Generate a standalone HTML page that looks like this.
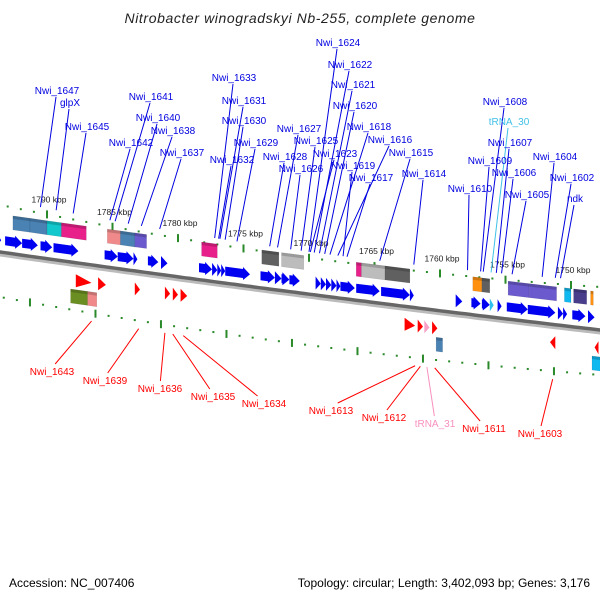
<!DOCTYPE html>
<html><head><meta charset="utf-8"><style>
body{margin:0;background:#fff;}
svg{display:block;font-family:"Liberation Sans","DejaVu Sans",sans-serif;}
</style></head><body>
<svg id="map" width="600" height="600" viewBox="0 0 600 600" xmlns="http://www.w3.org/2000/svg">
<text x="300" y="23" text-anchor="middle" font-size="14" font-style="italic" fill="#222" letter-spacing="0.6">Nitrobacter winogradskyi Nb-255, complete genome</text>
<text x="9" y="587" font-size="12" fill="#000">Accession: NC_007406</text>
<text x="590" y="587" font-size="12" fill="#000" text-anchor="end">Topology: circular; Length: 3,402,093 bp; Genes: 3,176</text>
<g id="layer"></g>
</svg>
<script>
// ---- data (kbp) ----
const fwdStart=[1793.8,1793.2,1791.9,1790.5,1789.5,1785.6,1784.6,1783.4,1782.3,1781.3,1778.4,1777.4,1777.0,1776.7,1776.4,1773.7,1772.6,1772.1,1771.5,1769.5,1769.1,1768.7,1768.3,1767.9,1767.6,1766.4,1764.5,1762.3,1758.8,1757.6,1756.8,1755.6,1754.9,1753.3,1751.0,1750.6,1749.9,1748.7];
const fwdEnd=  [1793.5,1791.9,1790.7,1789.6,1787.6,1784.6,1783.4,1783.1,1781.5,1780.8,1777.4,1777.0,1776.7,1776.4,1774.5,1772.6,1772.1,1771.5,1770.7,1769.1,1768.7,1768.3,1767.9,1767.6,1766.5,1764.6,1762.3,1762.0,1758.3,1756.9,1756.2,1755.3,1753.3,1751.2,1750.6,1750.3,1748.9,1748.2];
const trnaFStart=[1756.2]; const trnaFEnd=[1755.9];
const boxStart=[1792.6,1791.3,1790.0,1788.9,1785.4,1784.4,1783.3,1778.2,1773.6,1772.1,1766.4,1766.0,1764.2,1757.5,1756.8,1754.8,1753.2,1750.5,1749.8,1748.5];
const boxEnd=  [1791.3,1790.0,1788.9,1787.0,1784.4,1783.2,1782.4,1777.0,1772.3,1770.4,1766.0,1764.2,1762.3,1756.8,1756.2,1753.2,1751.1,1750.0,1748.8,1748.3];
const boxColor=["#4a82b4","#4a82b4","#13c8cc","#e8208a","#f08a8a","#4a82b4","#6a5acd","#e8208a","#606060","#bcbcbc","#e8208a","#bcbcbc","#606060","#ff9010","#606060","#6a5acd","#6a5acd","#10b8f0","#483d8b","#ff9010"];
const revStart=[1786.6,1785.5,1782.9,1780.6,1780.0,1779.3,1761.9,1761.3,1760.8,1760.2,1751.6,1748.2];
const revEnd=  [1787.8,1786.1,1783.3,1781.0,1780.4,1779.8,1762.7,1761.7,1761.2,1760.6,1751.2,1747.9];
const revColor=["red","red","red","red","red","red","red","red","#f8a0c8","red","red","red"];
const box2Start=[1788.2,1786.9,1760.3,1748.4];
const box2End=[1786.9,1786.2,1759.8,1747.6];
const box2Color=["#6b8e23","#f08a8a","#4a82b4","#10b8f0"];
const tickKbp=[1790,1785,1780,1775,1770,1765,1760,1755,1750];
const tickLabels=["1790 kbp","1785 kbp","1780 kbp","1775 kbp","1770 kbp","1765 kbp","1760 kbp","1755 kbp","1750 kbp"];
const topLabels=["Nwi_1647","glpX","Nwi_1645","Nwi_1641","Nwi_1640","Nwi_1638","Nwi_1642","Nwi_1637","Nwi_1633","Nwi_1631","Nwi_1630","Nwi_1629","Nwi_1632","Nwi_1627","Nwi_1628","Nwi_1626","Nwi_1625","Nwi_1624","Nwi_1622","Nwi_1621","Nwi_1620","Nwi_1618","Nwi_1623","Nwi_1616","Nwi_1619","Nwi_1617","Nwi_1615","Nwi_1614","Nwi_1608","tRNA_30","Nwi_1607","Nwi_1609","Nwi_1606","Nwi_1610","Nwi_1605","Nwi_1604","Nwi_1602","ndk"];
const topTarget=[1790.5,1789.3,1788.0,1784.8,1783.8,1782.8,1785.2,1781.4,1777.2,1776.8,1776.4,1775.5,1776.9,1772.4,1773.0,1771.4,1770.6,1770.0,1769.6,1769.2,1768.8,1768.4,1769.9,1767.8,1767.4,1767.1,1764.6,1762.0,1756.7,1756.1,1755.7,1756.9,1755.3,1757.9,1754.5,1752.2,1751.2,1750.8];
const topTx=[57,70,87,151,158,173,131,182,234,244,244,256,232,299,285,301,316,338,350,353,355,369,335,390,353,371,411,424,505,509,510,490,514,470,527,555,572,575];
const topTy=[94,106,130,100,121,134,146,156,81,104,124,146,163,132,160,172,144,46,68,88,109,130,157,143,169,181,156,177,105,125,146,164,176,192,198,160,181,202];
const botLabels=["Nwi_1643","Nwi_1639","Nwi_1636","Nwi_1635","Nwi_1634","Nwi_1613","Nwi_1612","tRNA_31","Nwi_1611","Nwi_1603"];
const botTarget=[1786.6,1783.0,1781.0,1780.4,1779.6,1761.9,1761.5,1761.0,1760.4,1751.4];
const botTx=[52,105,160,213,264,331,384,435,484,540];
const botTy=[375,384,392,400,407,414,421,427,432,437];
const botColor=["red","red","red","red","red","red","red","#f890c0","red","red"];

// ---- axis functions ----
const kx=k=>47+(1790-k)*13.1;
const ay=x=>252+0.1433*x-0.0000222*x*x;
const topY=x=>204.9+0.2076*x-0.000118*x*x;
const lowY=x=>297+0.1833*x-0.000089*x*x;
const NS="http://www.w3.org/2000/svg";
const layer=document.getElementById('layer');
function mk(tag,attrs){const e=document.createElementNS(NS,tag);for(const a in attrs)e.setAttribute(a,attrs[a]);layer.appendChild(e);return e;}
function pt(x,off){return x.toFixed(1)+","+(ay(x)+off).toFixed(1);}

// backbone
let d="M-5,"+ay(-5).toFixed(1);for(let x=0;x<=605;x+=5)d+=" L"+x+","+ay(x).toFixed(1);
let sh=mk('path',{d:d,transform:"translate(0,3)",stroke:"#bbb","stroke-width":3,fill:"none"});

let bb=mk('path',{d:d,stroke:"#666","stroke-width":3.5,fill:"none"});


// dotted scale lines
for(let k=1795;k>=1745;k--){const x=kx(k);if(x<-2||x>602)continue;const major=(k%5===0);
 const y=topY(x);
 const t=mk('rect',{x:x-1,y:major?y-4:y-1,width:2,height:major?8:2,fill:"#2a8a2a"});
 }
for(let k=1795.3;k>=1745;k-=1){const x=kx(k);if(x<-2||x>602)continue;const major=(Math.round((1786.3-k)*10)%50===0);
 const y=lowY(x);
 const t=mk('rect',{x:x-1,y:major?y-4:y-1,width:2,height:major?8:2,fill:"#2a8a2a"});
 }
tickKbp.forEach((k,i)=>{const x=kx(k);const t=mk('text',{x:x+2,y:topY(x)-12,"text-anchor":"middle","font-size":8.5,fill:"#222"});t.textContent=tickLabels[i];
 });

// boxes
function band(s,e,off,h,col,name){const x1=kx(s),x2=kx(e);
 const p=mk('polygon',{points:[pt(x1,off-h/2),pt(x2,off-h/2),pt(x2,off+h/2),pt(x1,off+h/2)].join(" "),fill:col,stroke:"rgba(0,0,0,0.15)","stroke-width":0.5});
 
 const q=mk('polygon',{points:[pt(x1,off-h/2),pt(x2,off-h/2),pt(x2,off-h/2+3),pt(x1,off-h/2+3)].join(" "),fill:"rgba(0,0,0,0.18)"});
 }
boxStart.forEach((s,i)=>band(s,boxEnd[i],-31,14,boxColor[i],'feature-box'));
box2Start.forEach((s,i)=>band(s,box2End[i],34,14,box2Color[i],'reverse-feature-box'));

// arrows
function arrow(s,e,off,col,dir,name){let x1=kx(s),x2=kx(e);const w=x2-x1;const hl=Math.min(7,w);const h=6.5;
 let pts;
 if(dir>0) pts=[pt(x1,off-h+2),pt(x2-hl,off-h+2),pt(x2-hl,off-h),pt(x2,off),pt(x2-hl,off+h),pt(x2-hl,off+h-2),pt(x1,off+h-2)];
 else pts=[pt(x2,off-h+2),pt(x1+hl,off-h+2),pt(x1+hl,off-h),pt(x1,off),pt(x1+hl,off+h),pt(x1+hl,off+h-2),pt(x2,off+h-2)];
 const p=mk('polygon',{points:pts.join(" "),fill:col});}
fwdStart.forEach((s,i)=>arrow(s,fwdEnd[i],-12,"#0000f0",1,'forward-gene'));
trnaFStart.forEach((s,i)=>arrow(s,trnaFEnd[i],-12,"#30c0f0",1,'forward-trna'));
revStart.forEach((s,i)=>arrow(s,revEnd[i],18,revColor[i],-1,'reverse-gene'));

// labels
topLabels.forEach((l,i)=>{const col=l.startsWith("tRNA")?"#40c0e8":"#0000e0";
 const t=mk('text',{x:topTx[i],y:topTy[i],"text-anchor":"middle","font-size":10,fill:col});t.textContent=l;
 
 const x=kx(topTarget[i]);const ln=mk('line',{x1:topTx[i]-1,y1:topTy[i]+3,x2:x,y2:topY(x)-6,stroke:col,"stroke-width":1});
 });
botLabels.forEach((l,i)=>{const col=botColor[i];
 const t=mk('text',{x:botTx[i],y:botTy[i],"text-anchor":"middle","font-size":10,fill:col});t.textContent=l;
 
 const x=kx(botTarget[i]);const ln=mk('line',{x1:botTx[i]+(x-botTx[i])*0.08,y1:botTy[i]-11,x2:x,y2:lowY(x)+8,stroke:col,"stroke-width":1});
 });
</script>
</body></html>
